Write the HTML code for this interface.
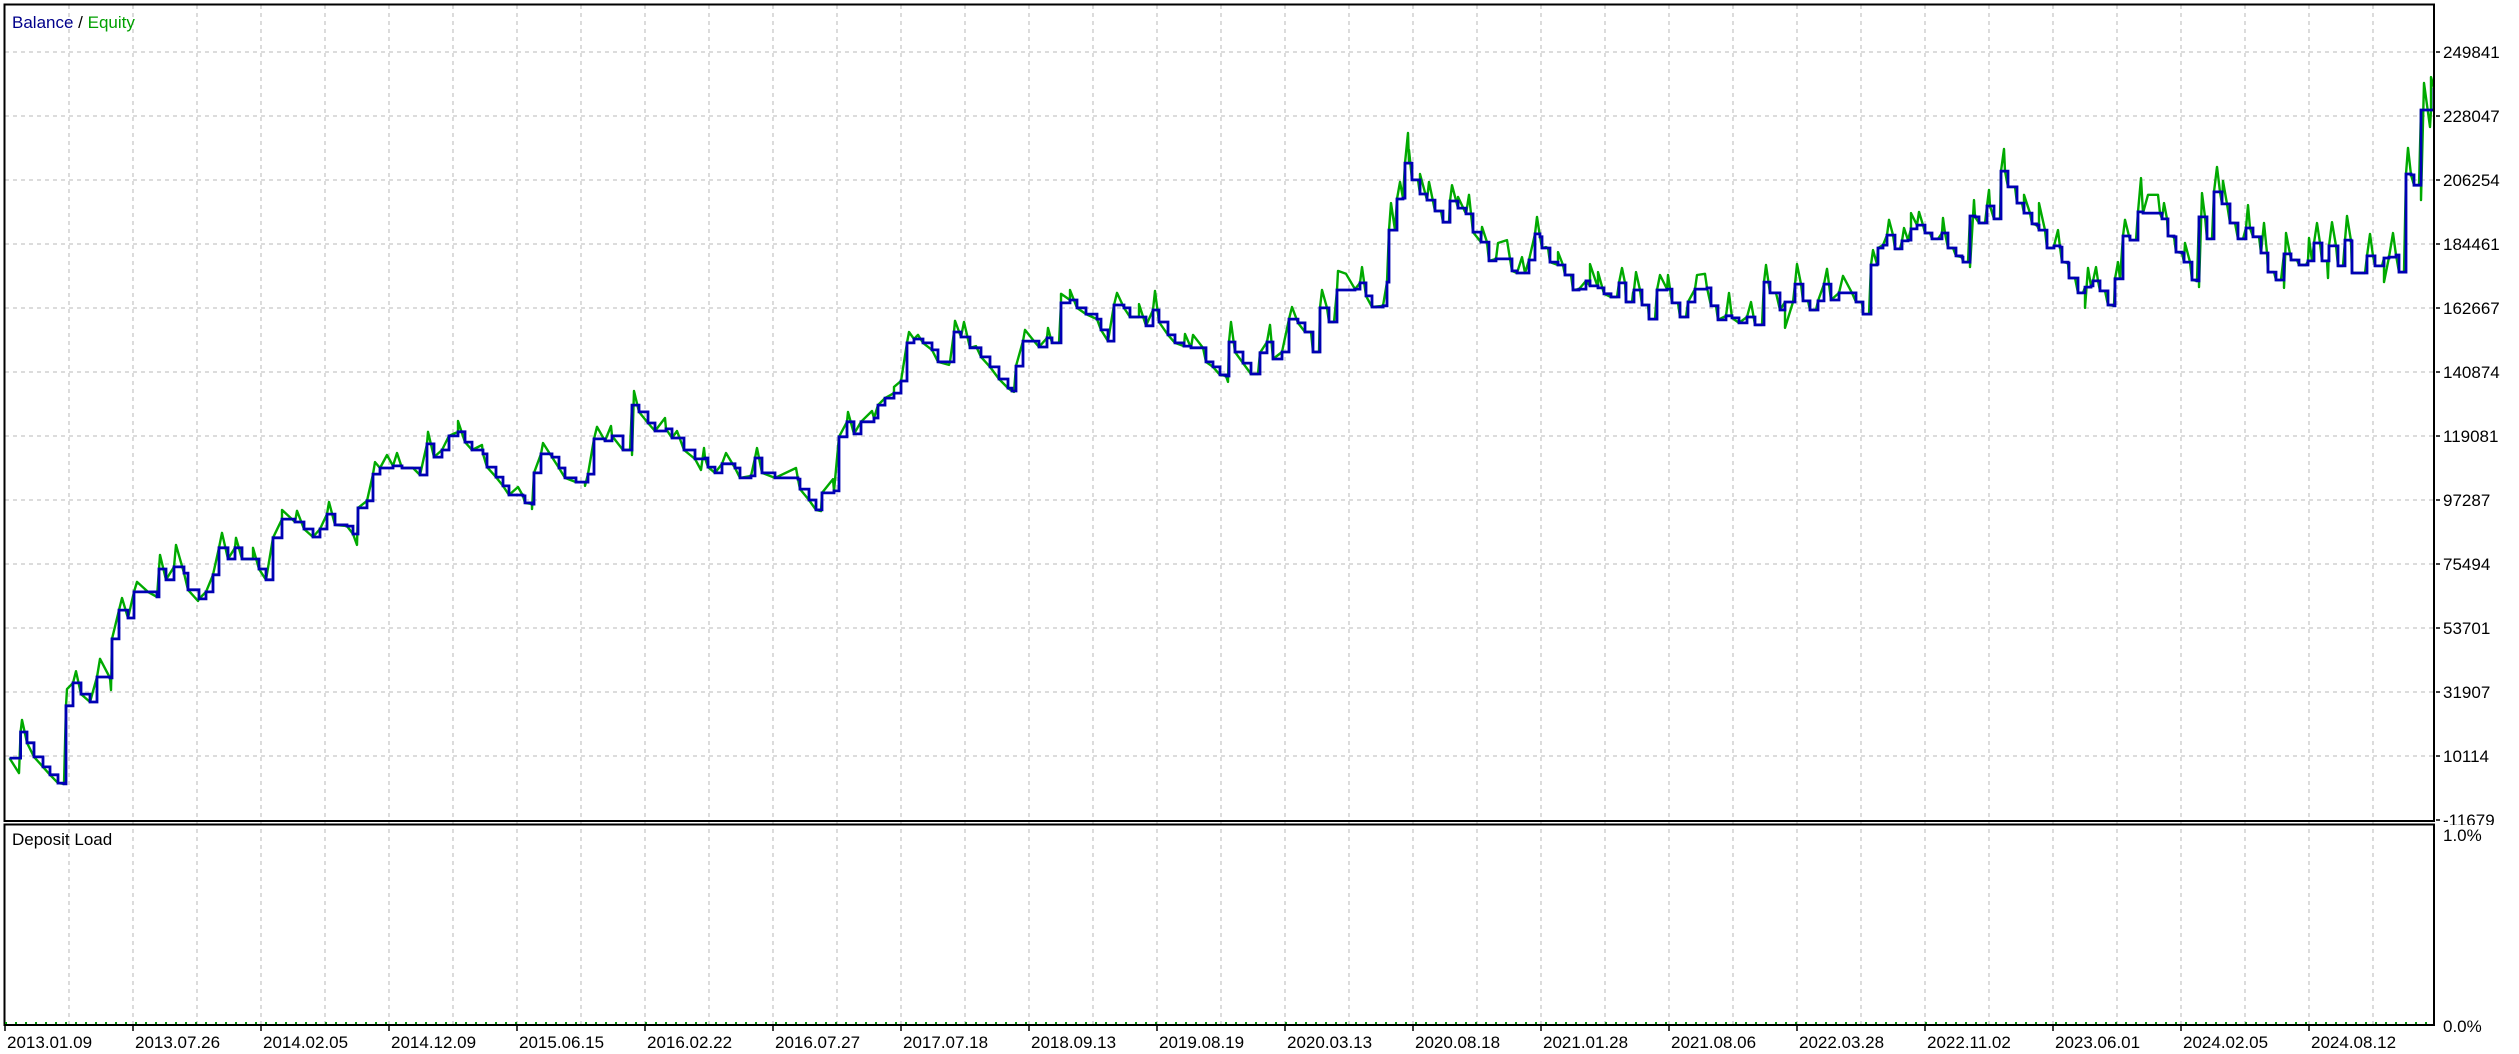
<!DOCTYPE html>
<html><head><meta charset="utf-8"><style>
html,body{margin:0;padding:0;background:#fff;}
svg{display:block;font-family:"Liberation Sans",sans-serif;}
</style></head><body>
<svg id="chart" width="2519" height="1054" viewBox="0 0 2519 1054">
<defs><clipPath id="mainClip"><rect x="5" y="5" width="2429" height="815"/></clipPath>
<clipPath id="lblClip"><rect x="2436" y="0" width="83" height="825"/></clipPath></defs>
<rect x="0" y="0" width="2519" height="1054" fill="#fff"/>
<g id="grid"></g>
<g id="series" clip-path="url(#mainClip)"></g>
<rect x="4.5" y="4.5" width="2429.5" height="816.5" fill="none" stroke="#000" stroke-width="2"/>
<rect x="4.5" y="824.5" width="2429.5" height="200.5" fill="none" stroke="#000" stroke-width="2"/>
<line x1="5" y1="1023" x2="2433" y2="1023" stroke="#00a000" stroke-width="2" stroke-dasharray="2 8"/>
<text x="12" y="28" font-size="17"><tspan fill="#00008b">Balance</tspan><tspan fill="#000"> / </tspan><tspan fill="#00a000">Equity</tspan></text>
<text x="12" y="845" font-size="17" fill="#000">Deposit Load</text>
<text x="2443" y="841" font-size="17" fill="#000">1.0%</text>
<text x="2443" y="1032" font-size="17" fill="#000">0.0%</text>
<g id="yaxis" clip-path="url(#lblClip)"></g>
<g id="xaxis"></g>
</svg>
<script>
const yTickValues=[249841,228047,206254,184461,162667,140874,119081,97287,75494,53701,31907,10114,-11679];
const xTickLabels=["2013.01.09","2013.07.26","2014.02.05","2014.12.09","2015.06.15","2016.02.22","2016.07.27","2017.07.18","2018.09.13","2019.08.19","2020.03.13","2020.08.18","2021.01.28","2021.08.06","2022.03.28","2022.11.02","2023.06.01","2024.02.05","2024.08.12"];
const balDeal=[4.5,15.6,22,29,38,45,53,59,61,68,76,85,92,105,107,114,123,129,143,152,154,161,169,179,183,194,201,208,214,223,230,237,248,254,261,268,277,290,299,308,315,322,330,342,348,353,362,368,375,388,397,408,415,422,429,437,444,453,460,467,478,482,491,498,504,518,520,527,529,536,547,554,560,571,580,583,589,600,607,618,625,627,634,643,650,661,667,679,690,700,703,710,717,730,735,746,750,757,770,793,795,804,811,817,829,834,842,849,856,869,873,880,889,896,902,909,918,927,933,945,949,956,965,976,985,994,1003,1007,1011,1018,1029,1034,1042,1047,1054,1056,1065,1072,1081,1092,1096,1103,1109,1119,1125,1134,1141,1148,1154,1163,1170,1179,1186,1198,1201,1208,1215,1221,1224,1230,1238,1246,1253,1255,1262,1268,1277,1284,1293,1300,1306,1308,1314,1315,1322,1324,1329,1332,1350,1355,1361,1367,1378,1382,1384,1390,1392,1398,1400,1404,1407,1413,1415,1422,1430,1436,1438,1444,1445,1453,1461,1466,1468,1476,1482,1484,1491,1505,1507,1512,1520,1524,1530,1535,1537,1543,1545,1553,1558,1560,1566,1568,1574,1581,1585,1593,1599,1606,1612,1614,1620,1621,1627,1629,1635,1637,1643,1644,1650,1652,1662,1667,1673,1675,1681,1683,1690,1702,1706,1711,1713,1721,1727,1734,1742,1750,1757,1759,1765,1771,1775,1780,1788,1790,1796,1798,1803,1805,1811,1813,1819,1824,1826,1834,1847,1851,1857,1858,1864,1866,1872,1873,1878,1882,1888,1890,1895,1897,1903,1906,1912,1918,1920,1925,1927,1933,1937,1940,1943,1948,1951,1957,1958,1963,1965,1970,1974,1980,1982,1985,1989,1995,1996,2000,2003,2010,2012,2017,2019,2025,2027,2032,2034,2040,2042,2048,2049,2055,2057,2063,2064,2070,2073,2078,2080,2086,2088,2093,2095,2100,2103,2109,2110,2115,2118,2125,2131,2133,2138,2155,2157,2162,2163,2169,2171,2177,2179,2185,2187,2192,2194,2200,2202,2207,2209,2215,2217,2222,2225,2230,2233,2238,2241,2245,2248,2254,2256,2262,2263,2269,2271,2276,2279,2285,2286,2292,2294,2301,2303,2307,2309,2315,2317,2322,2324,2331,2333,2338,2340,2346,2347,2360,2362,2368,2370,2377,2379,2384,2391,2394,2399,2401,2406,2409,2414,2416,2426,2429];
const balK=[9.4,18.3,14.6,9.8,6.4,3.7,0.9,0.6,27.2,35.0,31.2,28.5,37.0,36.7,50.0,59.8,57.1,66.0,66.0,64.3,73.8,70.1,74.5,72.4,66.7,63.6,66.0,71.8,81.0,77.2,81.0,77.2,77.2,73.8,70.1,84.4,90.8,89.8,87.4,84.7,87.4,92.5,88.8,88.4,85.7,94.6,97.0,106.1,108.2,108.9,108.2,108.2,105.8,116.4,111.9,114.3,119.1,120.5,117.0,114.3,113.0,108.5,105.1,102.1,99.0,98.7,96.3,95.9,106.5,113.0,111.9,108.2,104.8,103.4,103.4,106.1,118.1,117.4,119.1,114.3,114.3,129.6,127.3,123.5,120.8,121.5,118.4,114.3,111.3,111.6,108.5,106.5,109.6,108.2,104.8,105.5,111.6,106.5,104.8,104.4,101.0,97.3,93.9,99.7,100.4,118.8,123.9,119.8,123.9,125.2,129.6,132.0,133.7,137.8,150.8,152.1,150.8,148.4,144.3,144.3,154.5,152.8,149.1,146.0,142.6,138.5,135.4,134.4,142.9,151.4,151.4,149.4,152.5,150.8,150.8,164.4,165.4,162.7,160.6,158.9,155.2,151.4,163.7,162.7,159.6,159.6,156.6,162.0,157.9,153.5,150.8,149.7,149.1,149.1,144.3,142.6,139.9,139.5,151.1,147.7,143.9,140.2,140.2,147.4,151.1,145.3,147.7,158.9,157.6,154.5,154.5,147.7,147.7,162.7,162.7,157.9,157.9,168.8,169.1,171.2,166.8,163.0,163.4,171.5,189.2,189.2,199.8,200.1,212.0,212.0,206.3,206.3,201.5,199.4,195.7,195.7,191.9,191.9,199.1,196.7,194.7,194.7,188.5,185.1,185.1,178.7,179.4,179.4,175.3,174.6,174.6,179.0,187.9,186.9,183.1,183.1,178.3,177.3,177.3,173.9,173.9,168.8,169.1,171.9,170.2,169.5,167.5,166.4,166.4,171.2,171.2,164.7,164.7,168.8,168.8,163.7,163.7,158.9,158.9,168.8,169.1,164.4,164.4,159.6,159.6,164.7,169.1,169.5,163.4,163.4,158.6,160.0,159.3,157.6,159.6,156.9,156.9,171.5,167.8,167.8,162.0,164.7,164.7,170.8,170.8,165.1,165.1,162.0,162.0,165.1,170.8,170.8,165.4,167.8,167.8,164.7,164.7,160.6,160.6,177.3,177.6,183.1,184.1,187.5,187.5,182.8,182.8,185.5,185.8,189.6,190.9,190.9,188.2,188.2,186.2,186.2,188.2,188.2,183.1,183.1,180.4,180.0,178.3,178.3,194.0,193.7,191.6,191.6,197.4,197.4,193.0,193.0,209.3,209.3,203.9,203.9,198.4,198.4,195.0,195.0,191.3,190.9,189.2,189.2,183.1,183.1,183.8,183.4,178.3,178.0,172.9,172.9,167.8,167.8,169.8,170.2,171.9,171.9,168.5,168.5,163.7,163.4,172.6,172.6,187.2,185.8,185.8,195.4,195.0,195.0,193.0,193.0,187.2,186.9,181.7,181.4,178.3,178.3,172.2,171.9,193.7,193.7,186.2,186.2,202.2,202.2,198.1,198.1,191.6,191.6,186.2,186.2,189.9,189.9,186.9,186.9,181.4,181.4,174.9,174.9,172.2,172.2,181.1,181.1,179.0,179.0,177.3,177.3,178.7,178.7,184.8,184.8,178.7,178.7,183.8,183.8,177.0,177.0,185.8,185.5,174.6,174.6,180.4,180.4,177.0,177.0,179.7,180.0,180.7,174.9,174.9,208.3,208.0,204.5,204.5,230.1,230.1,237.6];
const eqDeal=[14,17,62,71,95,106,117,132,155,171,193,217,231,248,277,292,324,352,370,382,392,423,453,477,513,527,538,580,592,606,627,629,660,672,696,699,721,752,791,816,828,843,867,889,904,913,944,950,959,971,1009,1020,1043,1056,1065,1112,1134,1150,1180,1188,1223,1226,1265,1287,1317,1333,1341,1357,1386,1395,1403,1404,1415,1424,1447,1453,1464,1477,1493,1502,1517,1532,1541,1553,1585,1593,1617,1628,1631,1655,1663,1692,1700,1724,1746,1761,1780,1792,1822,1838,1868,1884,1899,1906,1914,1938,1965,1969,1984,1999,2019,2034,2053,2080,2083,2091,2113,2120,2136,2143,2153,2159,2180,2194,2197,2212,2218,2243,2259,2279,2281,2304,2312,2323,2327,2342,2365,2379,2388,2403,2416,2419,2425,2426,2429.5];
const eqK=[4.3,22.4,32.9,39.0,43.2,32.6,63.9,69.4,78.6,82.0,62.9,86.1,84.4,81.0,93.9,93.6,96.6,82.0,110.2,112.6,113.3,120.5,124.2,116.0,101.7,94.2,116.7,102.1,122.2,122.5,112.6,134.4,125.2,120.8,107.5,115.0,113.3,115.0,108.2,93.5,104.4,127.3,127.6,135.8,154.5,153.5,143.3,158.3,157.9,149.7,134.1,155.2,155.9,167.5,168.8,167.8,164.0,168.5,153.8,153.5,137.5,157.9,156.9,163.0,168.8,175.3,174.3,176.6,198.4,205.6,222.3,216.5,208.3,205.6,204.5,200.5,201.2,190.3,184.8,185.8,180.0,193.7,183.4,181.7,177.6,174.9,176.3,167.8,174.9,173.9,173.9,173.9,174.3,167.8,164.7,177.3,155.9,177.6,176.0,173.6,182.4,192.7,189.9,195.0,195.4,193.3,176.6,199.4,202.9,216.8,201.2,198.4,189.2,162.7,176.3,176.6,178.3,192.7,206.9,201.2,201.2,198.4,184.8,169.8,201.8,210.7,205.9,197.7,191.6,169.5,188.2,186.5,191.6,172.9,191.9,194.0,187.9,171.5,188.2,217.2,199.4,239.3,224.3,241.3,239.3];

const NS="http://www.w3.org/2000/svg";
const X0=5,X1=2434,Y0=52,Y1=820;
const vMax=yTickValues[0],vMin=yTickValues[yTickValues.length-1];
function xScale(d){return X0+(d/2429)*(X1-X0);}
function yScale(v){return Y0+(vMax-v)/(vMax-vMin)*(Y1-Y0);}
function mk(tag,attrs,parent){const e=document.createElementNS(NS,tag);for(const k in attrs)e.setAttribute(k,attrs[k]);parent.appendChild(e);return e;}

const grid=document.getElementById('grid');
for(let gx=69;gx<=2373;gx+=64){
  const l=mk('line',{x1:gx,y1:5,x2:gx,y2:1024,stroke:'#c8c8c8','stroke-width':1.3,'stroke-dasharray':'4 4'},grid);
  
  
}
const yaxis=document.getElementById('yaxis');
yTickValues.forEach((v,i)=>{
  const y=yScale(v);
  if(i<yTickValues.length-1){
    const l=mk('line',{x1:5,y1:y,x2:2433,y2:y,stroke:'#c8c8c8','stroke-width':1.3,'stroke-dasharray':'4 4'},grid);
    
    
  }
  const t=mk('line',{x1:2434,y1:y,x2:2440,y2:y,stroke:'#000','stroke-width':1.5},yaxis);
  
  
  const tx=mk('text',{x:2443,y:y+6,'font-size':17,fill:'#000'},yaxis);
  tx.textContent=String(v);
  
  
});
const xaxis=document.getElementById('xaxis');
xTickLabels.forEach((lab,i)=>{
  const x=5+i*128;
  const t=mk('line',{x1:x,y1:1025,x2:x,y2:1031,stroke:'#000','stroke-width':1.5},xaxis);
  
  
  const tx=mk('text',{x:x+2,y:1048,'font-size':17,fill:'#000'},xaxis);
  tx.textContent=lab;
  
  
});

const series=document.getElementById('series');
const pts=[];
balDeal.forEach((d,i)=>pts.push([d,balK[i]]));
eqDeal.forEach((d,i)=>pts.push([d+0.01,eqK[i]]));
pts.sort((a,b)=>a[0]-b[0]);
const eq=mk('polyline',{points:pts.map(p=>xScale(p[0]).toFixed(1)+','+yScale(p[1]*1000).toFixed(1)).join(' '),fill:'none',stroke:'#00aa00','stroke-width':2.4,'stroke-linejoin':'round'},series);


// balance as step line
const bp=[];
balDeal.forEach((d,i)=>{
  const x=xScale(d).toFixed(1),y=yScale(balK[i]*1000).toFixed(1);
  if(i>0){bp.push(x+','+yScale(balK[i-1]*1000).toFixed(1));}
  bp.push(x+','+y);
});
const bal=mk('polyline',{points:bp.join(' '),fill:'none',stroke:'#0000b4','stroke-width':2.8,'stroke-linejoin':'miter'},series);


</script>
</body></html>
